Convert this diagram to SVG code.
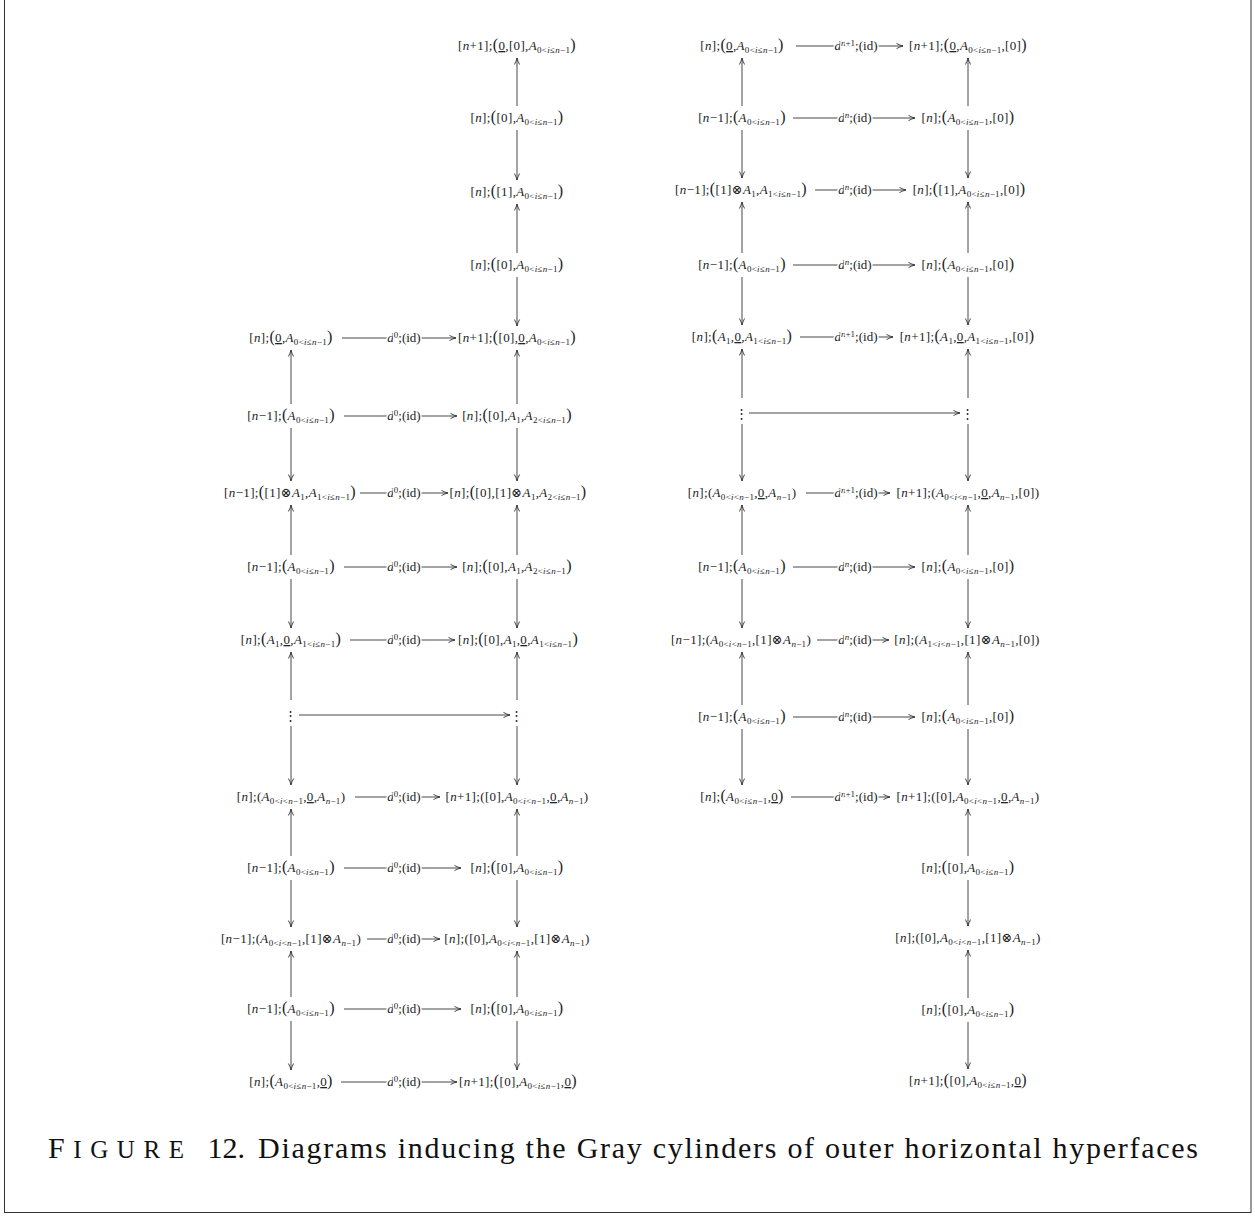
<svg xmlns="http://www.w3.org/2000/svg" width="1255" height="1217" viewBox="0 0 1255 1217">
<style>
.t{font-family:"Liberation Serif","DejaVu Serif",serif;font-size:13px;letter-spacing:0.35px;fill:#222;text-anchor:middle}
.i{font-style:italic}
.s{font-size:9px;letter-spacing:0.3px;baseline-shift:-2.8px}
.p{font-size:16px}
.u{text-decoration:underline}
.sup{font-size:9px;baseline-shift:4.5px}
.lbl{font-family:"Liberation Serif","DejaVu Serif",serif;font-size:13px;fill:#222;text-anchor:middle;stroke:#fff;stroke-width:3px;paint-order:stroke fill;stroke-linejoin:round}
.c line{stroke:#333;stroke-width:0.9;fill:none;marker-end:url(#ah)}
.cap{font-family:"Liberation Serif","DejaVu Serif",serif;font-size:30px;fill:#111}
.sc{font-size:25px}
</style>
<defs>
<marker id="ah" viewBox="-8 -4 10 8" refX="0" refY="0" markerWidth="10" markerHeight="8" markerUnits="userSpaceOnUse" orient="auto">
<path d="M-6.5,-2.6 Q-3,-0.6 0,0 Q-3,0.6 -6.5,2.6" fill="none" stroke="#333" stroke-width="0.9"/>
</marker>
</defs>
<rect x="4.5" y="-5" width="1246.5" height="1217.5" fill="none" stroke="#333" stroke-width="1"/>

<g class="c" id="connectors">
<line x1="517" y1="106" x2="517" y2="58"/>
<line x1="517" y1="130" x2="517" y2="180"/>
<line x1="517" y1="253" x2="517" y2="204"/>
<line x1="517" y1="277" x2="517" y2="326"/>
<line x1="517" y1="404" x2="517" y2="350"/>
<line x1="517" y1="428" x2="517" y2="481"/>
<line x1="517" y1="555" x2="517" y2="505"/>
<line x1="517" y1="579" x2="517" y2="628"/>
<line x1="517" y1="700" x2="517" y2="652"/>
<line x1="517" y1="726" x2="517" y2="785"/>
<line x1="517" y1="856" x2="517" y2="809"/>
<line x1="517" y1="880" x2="517" y2="927"/>
<line x1="517" y1="997" x2="517" y2="951"/>
<line x1="517" y1="1021" x2="517" y2="1070"/>
<line x1="291" y1="404" x2="291" y2="350"/>
<line x1="291" y1="428" x2="291" y2="481"/>
<line x1="291" y1="555" x2="291" y2="505"/>
<line x1="291" y1="579" x2="291" y2="628"/>
<line x1="291" y1="700" x2="291" y2="652"/>
<line x1="291" y1="726" x2="291" y2="785"/>
<line x1="291" y1="856" x2="291" y2="809"/>
<line x1="291" y1="880" x2="291" y2="927"/>
<line x1="291" y1="997" x2="291" y2="951"/>
<line x1="291" y1="1021" x2="291" y2="1070"/>
<line x1="342" y1="338" x2="456" y2="338"/>
<line x1="344" y1="416" x2="457" y2="416"/>
<line x1="360" y1="493" x2="448" y2="493"/>
<line x1="344" y1="567" x2="457" y2="567"/>
<line x1="350" y1="640" x2="455" y2="640"/>
<line x1="299" y1="715" x2="510" y2="715"/>
<line x1="355" y1="797" x2="440" y2="797"/>
<line x1="344" y1="868" x2="461" y2="868"/>
<line x1="367" y1="939" x2="440" y2="939"/>
<line x1="344" y1="1009" x2="461" y2="1009"/>
<line x1="341" y1="1082" x2="457" y2="1082"/>
<line x1="742" y1="106" x2="742" y2="58"/>
<line x1="742" y1="130" x2="742" y2="178"/>
<line x1="742" y1="253" x2="742" y2="202"/>
<line x1="742" y1="277" x2="742" y2="325"/>
<line x1="742" y1="398" x2="742" y2="349"/>
<line x1="742" y1="424" x2="742" y2="481"/>
<line x1="742" y1="555" x2="742" y2="505"/>
<line x1="742" y1="579" x2="742" y2="628"/>
<line x1="742" y1="705" x2="742" y2="652"/>
<line x1="742" y1="729" x2="742" y2="785"/>
<line x1="968" y1="106" x2="968" y2="58"/>
<line x1="968" y1="130" x2="968" y2="178"/>
<line x1="968" y1="253" x2="968" y2="202"/>
<line x1="968" y1="277" x2="968" y2="325"/>
<line x1="968" y1="398" x2="968" y2="349"/>
<line x1="968" y1="424" x2="968" y2="481"/>
<line x1="968" y1="555" x2="968" y2="505"/>
<line x1="968" y1="579" x2="968" y2="628"/>
<line x1="968" y1="705" x2="968" y2="652"/>
<line x1="968" y1="729" x2="968" y2="785"/>
<line x1="968" y1="856" x2="968" y2="809"/>
<line x1="968" y1="880" x2="968" y2="926"/>
<line x1="968" y1="998" x2="968" y2="950"/>
<line x1="968" y1="1022" x2="968" y2="1069"/>
<line x1="796" y1="46" x2="903" y2="46"/>
<line x1="793" y1="118" x2="915" y2="118"/>
<line x1="815" y1="190" x2="906" y2="190"/>
<line x1="793" y1="265" x2="915" y2="265"/>
<line x1="800" y1="337" x2="893" y2="337"/>
<line x1="749" y1="413" x2="960" y2="413"/>
<line x1="806" y1="493" x2="890" y2="493"/>
<line x1="817" y1="640" x2="889" y2="640"/>
<line x1="793" y1="567" x2="915" y2="567"/>
<line x1="793" y1="717" x2="915" y2="717"/>
<line x1="791" y1="797" x2="890" y2="797"/>
<text class="lbl" x="404" y="342"><tspan class="i">d</tspan><tspan class="sup">0</tspan>;(id)</text>
<text class="lbl" x="404" y="420"><tspan class="i">d</tspan><tspan class="sup">0</tspan>;(id)</text>
<text class="lbl" x="404" y="497"><tspan class="i">d</tspan><tspan class="sup">0</tspan>;(id)</text>
<text class="lbl" x="404" y="571"><tspan class="i">d</tspan><tspan class="sup">0</tspan>;(id)</text>
<text class="lbl" x="404" y="644"><tspan class="i">d</tspan><tspan class="sup">0</tspan>;(id)</text>
<text class="lbl" x="404" y="801"><tspan class="i">d</tspan><tspan class="sup">0</tspan>;(id)</text>
<text class="lbl" x="404" y="872"><tspan class="i">d</tspan><tspan class="sup">0</tspan>;(id)</text>
<text class="lbl" x="404" y="943"><tspan class="i">d</tspan><tspan class="sup">0</tspan>;(id)</text>
<text class="lbl" x="404" y="1013"><tspan class="i">d</tspan><tspan class="sup">0</tspan>;(id)</text>
<text class="lbl" x="404" y="1086"><tspan class="i">d</tspan><tspan class="sup">0</tspan>;(id)</text>
<text class="lbl" x="856" y="50"><tspan class="i">d</tspan><tspan class="sup"><tspan class="i">n</tspan>+1</tspan>;(id)</text>
<text class="lbl" x="855" y="122"><tspan class="i">d</tspan><tspan class="sup"><tspan class="i">n</tspan></tspan>;(id)</text>
<text class="lbl" x="855" y="194"><tspan class="i">d</tspan><tspan class="sup"><tspan class="i">n</tspan></tspan>;(id)</text>
<text class="lbl" x="855" y="269"><tspan class="i">d</tspan><tspan class="sup"><tspan class="i">n</tspan></tspan>;(id)</text>
<text class="lbl" x="856" y="341"><tspan class="i">d</tspan><tspan class="sup"><tspan class="i">n</tspan>+1</tspan>;(id)</text>
<text class="lbl" x="856" y="497"><tspan class="i">d</tspan><tspan class="sup"><tspan class="i">n</tspan>+1</tspan>;(id)</text>
<text class="lbl" x="855" y="571"><tspan class="i">d</tspan><tspan class="sup"><tspan class="i">n</tspan></tspan>;(id)</text>
<text class="lbl" x="855" y="644"><tspan class="i">d</tspan><tspan class="sup"><tspan class="i">n</tspan></tspan>;(id)</text>
<text class="lbl" x="855" y="721"><tspan class="i">d</tspan><tspan class="sup"><tspan class="i">n</tspan></tspan>;(id)</text>
<text class="lbl" x="856" y="801"><tspan class="i">d</tspan><tspan class="sup"><tspan class="i">n</tspan>+1</tspan>;(id)</text>
</g>

<g id="L0"><text class="t" x="517" y="50">[<tspan class="i">n</tspan>+1];<tspan class="p">(</tspan><tspan class="u">0</tspan>,[0],<tspan class="i">A</tspan><tspan class="s">0&lt;<tspan class="i">i</tspan>≤<tspan class="i">n</tspan>−1</tspan><tspan class="p">)</tspan></text></g>
<g id="L1"><text class="t" x="517" y="122">[<tspan class="i">n</tspan>];<tspan class="p">(</tspan>[0],<tspan class="i">A</tspan><tspan class="s">0&lt;<tspan class="i">i</tspan>≤<tspan class="i">n</tspan>−1</tspan><tspan class="p">)</tspan></text></g>
<g id="L2"><text class="t" x="517" y="196">[<tspan class="i">n</tspan>];<tspan class="p">(</tspan>[1],<tspan class="i">A</tspan><tspan class="s">0&lt;<tspan class="i">i</tspan>≤<tspan class="i">n</tspan>−1</tspan><tspan class="p">)</tspan></text></g>
<g id="L3"><text class="t" x="517" y="269">[<tspan class="i">n</tspan>];<tspan class="p">(</tspan>[0],<tspan class="i">A</tspan><tspan class="s">0&lt;<tspan class="i">i</tspan>≤<tspan class="i">n</tspan>−1</tspan><tspan class="p">)</tspan></text></g>
<g id="L4a"><text class="t" x="291" y="342">[<tspan class="i">n</tspan>];<tspan class="p">(</tspan><tspan class="u">0</tspan>,<tspan class="i">A</tspan><tspan class="s">0&lt;<tspan class="i">i</tspan>≤<tspan class="i">n</tspan>−1</tspan><tspan class="p">)</tspan></text></g>
<g id="L4b"><text class="t" x="517" y="342">[<tspan class="i">n</tspan>+1];<tspan class="p">(</tspan>[0],<tspan class="u">0</tspan>,<tspan class="i">A</tspan><tspan class="s">0&lt;<tspan class="i">i</tspan>≤<tspan class="i">n</tspan>−1</tspan><tspan class="p">)</tspan></text></g>
<g id="L5a"><text class="t" x="291" y="420">[<tspan class="i">n</tspan>−1];<tspan class="p">(</tspan><tspan class="i">A</tspan><tspan class="s">0&lt;<tspan class="i">i</tspan>≤<tspan class="i">n</tspan>−1</tspan><tspan class="p">)</tspan></text></g>
<g id="L5b"><text class="t" x="517" y="420">[<tspan class="i">n</tspan>];<tspan class="p">(</tspan>[0],<tspan class="i">A</tspan><tspan class="s">1</tspan>,<tspan class="i">A</tspan><tspan class="s">2&lt;<tspan class="i">i</tspan>≤<tspan class="i">n</tspan>−1</tspan><tspan class="p">)</tspan></text></g>
<g id="L6a"><text class="t" x="290" y="497">[<tspan class="i">n</tspan>−1];<tspan class="p">(</tspan>[1]⊗<tspan class="i">A</tspan><tspan class="s">1</tspan>,<tspan class="i">A</tspan><tspan class="s">1&lt;<tspan class="i">i</tspan>≤<tspan class="i">n</tspan>−1</tspan><tspan class="p">)</tspan></text></g>
<g id="L6b"><text class="t" x="518" y="497">[<tspan class="i">n</tspan>];<tspan class="p">(</tspan>[0],[1]⊗<tspan class="i">A</tspan><tspan class="s">1</tspan>,<tspan class="i">A</tspan><tspan class="s">2&lt;<tspan class="i">i</tspan>≤<tspan class="i">n</tspan>−1</tspan><tspan class="p">)</tspan></text></g>
<g id="L7a"><text class="t" x="291" y="571">[<tspan class="i">n</tspan>−1];<tspan class="p">(</tspan><tspan class="i">A</tspan><tspan class="s">0&lt;<tspan class="i">i</tspan>≤<tspan class="i">n</tspan>−1</tspan><tspan class="p">)</tspan></text></g>
<g id="L7b"><text class="t" x="517" y="571">[<tspan class="i">n</tspan>];<tspan class="p">(</tspan>[0],<tspan class="i">A</tspan><tspan class="s">1</tspan>,<tspan class="i">A</tspan><tspan class="s">2&lt;<tspan class="i">i</tspan>≤<tspan class="i">n</tspan>−1</tspan><tspan class="p">)</tspan></text></g>
<g id="L8a"><text class="t" x="291" y="644">[<tspan class="i">n</tspan>];<tspan class="p">(</tspan><tspan class="i">A</tspan><tspan class="s">1</tspan>,<tspan class="u">0</tspan>,<tspan class="i">A</tspan><tspan class="s">1&lt;<tspan class="i">i</tspan>≤<tspan class="i">n</tspan>−1</tspan><tspan class="p">)</tspan></text></g>
<g id="L8b"><text class="t" x="518" y="644">[<tspan class="i">n</tspan>];<tspan class="p">(</tspan>[0],<tspan class="i">A</tspan><tspan class="s">1</tspan>,<tspan class="u">0</tspan>,<tspan class="i">A</tspan><tspan class="s">1&lt;<tspan class="i">i</tspan>≤<tspan class="i">n</tspan>−1</tspan><tspan class="p">)</tspan></text></g>
<g id="L9a"><text class="t" x="291" y="720">⋮</text></g>
<g id="L9b"><text class="t" x="517" y="720">⋮</text></g>
<g id="L10a"><text class="t" x="291" y="801">[<tspan class="i">n</tspan>];(<tspan class="i">A</tspan><tspan class="s">0&lt;<tspan class="i">i</tspan>&lt;<tspan class="i">n</tspan>−1</tspan>,<tspan class="u">0</tspan>,<tspan class="i">A</tspan><tspan class="s"><tspan class="i">n</tspan>−1</tspan>)</text></g>
<g id="L10b"><text class="t" x="517" y="801">[<tspan class="i">n</tspan>+1];([0],<tspan class="i">A</tspan><tspan class="s">0&lt;<tspan class="i">i</tspan>&lt;<tspan class="i">n</tspan>−1</tspan>,<tspan class="u">0</tspan>,<tspan class="i">A</tspan><tspan class="s"><tspan class="i">n</tspan>−1</tspan>)</text></g>
<g id="L11a"><text class="t" x="291" y="872">[<tspan class="i">n</tspan>−1];<tspan class="p">(</tspan><tspan class="i">A</tspan><tspan class="s">0&lt;<tspan class="i">i</tspan>≤<tspan class="i">n</tspan>−1</tspan><tspan class="p">)</tspan></text></g>
<g id="L11b"><text class="t" x="517" y="872">[<tspan class="i">n</tspan>];<tspan class="p">(</tspan>[0],<tspan class="i">A</tspan><tspan class="s">0&lt;<tspan class="i">i</tspan>≤<tspan class="i">n</tspan>−1</tspan><tspan class="p">)</tspan></text></g>
<g id="L12a"><text class="t" x="291" y="943">[<tspan class="i">n</tspan>−1];(<tspan class="i">A</tspan><tspan class="s">0&lt;<tspan class="i">i</tspan>&lt;<tspan class="i">n</tspan>−1</tspan>,[1]⊗<tspan class="i">A</tspan><tspan class="s"><tspan class="i">n</tspan>−1</tspan>)</text></g>
<g id="L12b"><text class="t" x="517" y="943">[<tspan class="i">n</tspan>];([0],<tspan class="i">A</tspan><tspan class="s">0&lt;<tspan class="i">i</tspan>&lt;<tspan class="i">n</tspan>−1</tspan>,[1]⊗<tspan class="i">A</tspan><tspan class="s"><tspan class="i">n</tspan>−1</tspan>)</text></g>
<g id="L13a"><text class="t" x="291" y="1013">[<tspan class="i">n</tspan>−1];<tspan class="p">(</tspan><tspan class="i">A</tspan><tspan class="s">0&lt;<tspan class="i">i</tspan>≤<tspan class="i">n</tspan>−1</tspan><tspan class="p">)</tspan></text></g>
<g id="L13b"><text class="t" x="517" y="1013">[<tspan class="i">n</tspan>];<tspan class="p">(</tspan>[0],<tspan class="i">A</tspan><tspan class="s">0&lt;<tspan class="i">i</tspan>≤<tspan class="i">n</tspan>−1</tspan><tspan class="p">)</tspan></text></g>
<g id="L14a"><text class="t" x="291" y="1086">[<tspan class="i">n</tspan>];<tspan class="p">(</tspan><tspan class="i">A</tspan><tspan class="s">0&lt;<tspan class="i">i</tspan>≤<tspan class="i">n</tspan>−1</tspan>,<tspan class="u">0</tspan><tspan class="p">)</tspan></text></g>
<g id="L14b"><text class="t" x="518" y="1086">[<tspan class="i">n</tspan>+1];<tspan class="p">(</tspan>[0],<tspan class="i">A</tspan><tspan class="s">0&lt;<tspan class="i">i</tspan>≤<tspan class="i">n</tspan>−1</tspan>,<tspan class="u">0</tspan><tspan class="p">)</tspan></text></g>

<g id="R0a"><text class="t" x="742" y="50">[<tspan class="i">n</tspan>];<tspan class="p">(</tspan><tspan class="u">0</tspan>,<tspan class="i">A</tspan><tspan class="s">0&lt;<tspan class="i">i</tspan>≤<tspan class="i">n</tspan>−1</tspan><tspan class="p">)</tspan></text></g>
<g id="R0b"><text class="t" x="968" y="50">[<tspan class="i">n</tspan>+1];<tspan class="p">(</tspan><tspan class="u">0</tspan>,<tspan class="i">A</tspan><tspan class="s">0&lt;<tspan class="i">i</tspan>≤<tspan class="i">n</tspan>−1</tspan>,[0]<tspan class="p">)</tspan></text></g>
<g id="R1a"><text class="t" x="742" y="122">[<tspan class="i">n</tspan>−1];<tspan class="p">(</tspan><tspan class="i">A</tspan><tspan class="s">0&lt;<tspan class="i">i</tspan>≤<tspan class="i">n</tspan>−1</tspan><tspan class="p">)</tspan></text></g>
<g id="R1b"><text class="t" x="968" y="122">[<tspan class="i">n</tspan>];<tspan class="p">(</tspan><tspan class="i">A</tspan><tspan class="s">0&lt;<tspan class="i">i</tspan>≤<tspan class="i">n</tspan>−1</tspan>,[0]<tspan class="p">)</tspan></text></g>
<g id="R2a"><text class="t" x="741" y="194">[<tspan class="i">n</tspan>−1];<tspan class="p">(</tspan>[1]⊗<tspan class="i">A</tspan><tspan class="s">1</tspan>,<tspan class="i">A</tspan><tspan class="s">1&lt;<tspan class="i">i</tspan>≤<tspan class="i">n</tspan>−1</tspan><tspan class="p">)</tspan></text></g>
<g id="R2b"><text class="t" x="969" y="194">[<tspan class="i">n</tspan>];<tspan class="p">(</tspan>[1],<tspan class="i">A</tspan><tspan class="s">0&lt;<tspan class="i">i</tspan>≤<tspan class="i">n</tspan>−1</tspan>,[0]<tspan class="p">)</tspan></text></g>
<g id="R3a"><text class="t" x="742" y="269">[<tspan class="i">n</tspan>−1];<tspan class="p">(</tspan><tspan class="i">A</tspan><tspan class="s">0&lt;<tspan class="i">i</tspan>≤<tspan class="i">n</tspan>−1</tspan><tspan class="p">)</tspan></text></g>
<g id="R3b"><text class="t" x="968" y="269">[<tspan class="i">n</tspan>];<tspan class="p">(</tspan><tspan class="i">A</tspan><tspan class="s">0&lt;<tspan class="i">i</tspan>≤<tspan class="i">n</tspan>−1</tspan>,[0]<tspan class="p">)</tspan></text></g>
<g id="R4a"><text class="t" x="742" y="341">[<tspan class="i">n</tspan>];<tspan class="p">(</tspan><tspan class="i">A</tspan><tspan class="s">1</tspan>,<tspan class="u">0</tspan>,<tspan class="i">A</tspan><tspan class="s">1&lt;<tspan class="i">i</tspan>≤<tspan class="i">n</tspan>−1</tspan><tspan class="p">)</tspan></text></g>
<g id="R4b"><text class="t" x="967" y="341">[<tspan class="i">n</tspan>+1];<tspan class="p">(</tspan><tspan class="i">A</tspan><tspan class="s">1</tspan>,<tspan class="u">0</tspan>,<tspan class="i">A</tspan><tspan class="s">1&lt;<tspan class="i">i</tspan>≤<tspan class="i">n</tspan>−1</tspan>,[0]<tspan class="p">)</tspan></text></g>
<g id="R5a"><text class="t" x="742" y="418">⋮</text></g>
<g id="R5b"><text class="t" x="968" y="418">⋮</text></g>
<g id="R6a"><text class="t" x="742" y="497">[<tspan class="i">n</tspan>];(<tspan class="i">A</tspan><tspan class="s">0&lt;<tspan class="i">i</tspan>&lt;<tspan class="i">n</tspan>−1</tspan>,<tspan class="u">0</tspan>,<tspan class="i">A</tspan><tspan class="s"><tspan class="i">n</tspan>−1</tspan>)</text></g>
<g id="R6b"><text class="t" x="968" y="497">[<tspan class="i">n</tspan>+1];(<tspan class="i">A</tspan><tspan class="s">0&lt;<tspan class="i">i</tspan>&lt;<tspan class="i">n</tspan>−1</tspan>,<tspan class="u">0</tspan>,<tspan class="i">A</tspan><tspan class="s"><tspan class="i">n</tspan>−1</tspan>,[0])</text></g>
<g id="R7a"><text class="t" x="742" y="571">[<tspan class="i">n</tspan>−1];<tspan class="p">(</tspan><tspan class="i">A</tspan><tspan class="s">0&lt;<tspan class="i">i</tspan>≤<tspan class="i">n</tspan>−1</tspan><tspan class="p">)</tspan></text></g>
<g id="R7b"><text class="t" x="968" y="571">[<tspan class="i">n</tspan>];<tspan class="p">(</tspan><tspan class="i">A</tspan><tspan class="s">0&lt;<tspan class="i">i</tspan>≤<tspan class="i">n</tspan>−1</tspan>,[0]<tspan class="p">)</tspan></text></g>
<g id="R8a"><text class="t" x="741" y="644">[<tspan class="i">n</tspan>−1];(<tspan class="i">A</tspan><tspan class="s">0&lt;<tspan class="i">i</tspan>&lt;<tspan class="i">n</tspan>−1</tspan>,[1]⊗<tspan class="i">A</tspan><tspan class="s"><tspan class="i">n</tspan>−1</tspan>)</text></g>
<g id="R8b"><text class="t" x="967" y="644">[<tspan class="i">n</tspan>];(<tspan class="i">A</tspan><tspan class="s">1&lt;<tspan class="i">i</tspan>&lt;<tspan class="i">n</tspan>−1</tspan>,[1]⊗<tspan class="i">A</tspan><tspan class="s"><tspan class="i">n</tspan>−1</tspan>,[0])</text></g>
<g id="R9a"><text class="t" x="742" y="721">[<tspan class="i">n</tspan>−1];<tspan class="p">(</tspan><tspan class="i">A</tspan><tspan class="s">0&lt;<tspan class="i">i</tspan>≤<tspan class="i">n</tspan>−1</tspan><tspan class="p">)</tspan></text></g>
<g id="R9b"><text class="t" x="968" y="721">[<tspan class="i">n</tspan>];<tspan class="p">(</tspan><tspan class="i">A</tspan><tspan class="s">0&lt;<tspan class="i">i</tspan>≤<tspan class="i">n</tspan>−1</tspan>,[0]<tspan class="p">)</tspan></text></g>
<g id="R10a"><text class="t" x="742" y="801">[<tspan class="i">n</tspan>];<tspan class="p">(</tspan><tspan class="i">A</tspan><tspan class="s">0&lt;<tspan class="i">i</tspan>≤<tspan class="i">n</tspan>−1</tspan>,<tspan class="u">0</tspan><tspan class="p">)</tspan></text></g>
<g id="R10b"><text class="t" x="968" y="801">[<tspan class="i">n</tspan>+1];([0],<tspan class="i">A</tspan><tspan class="s">0&lt;<tspan class="i">i</tspan>&lt;<tspan class="i">n</tspan>−1</tspan>,<tspan class="u">0</tspan>,<tspan class="i">A</tspan><tspan class="s"><tspan class="i">n</tspan>−1</tspan>)</text></g>
<g id="R11"><text class="t" x="968" y="872">[<tspan class="i">n</tspan>];<tspan class="p">(</tspan>[0],<tspan class="i">A</tspan><tspan class="s">0&lt;<tspan class="i">i</tspan>≤<tspan class="i">n</tspan>−1</tspan><tspan class="p">)</tspan></text></g>
<g id="R12"><text class="t" x="968" y="942">[<tspan class="i">n</tspan>];([0],<tspan class="i">A</tspan><tspan class="s">0&lt;<tspan class="i">i</tspan>&lt;<tspan class="i">n</tspan>−1</tspan>,[1]⊗<tspan class="i">A</tspan><tspan class="s"><tspan class="i">n</tspan>−1</tspan>)</text></g>
<g id="R13"><text class="t" x="968" y="1014">[<tspan class="i">n</tspan>];<tspan class="p">(</tspan>[0],<tspan class="i">A</tspan><tspan class="s">0&lt;<tspan class="i">i</tspan>≤<tspan class="i">n</tspan>−1</tspan><tspan class="p">)</tspan></text></g>
<g id="R14"><text class="t" x="968" y="1085">[<tspan class="i">n</tspan>+1];<tspan class="p">(</tspan>[0],<tspan class="i">A</tspan><tspan class="s">0&lt;<tspan class="i">i</tspan>≤<tspan class="i">n</tspan>−1</tspan>,<tspan class="u">0</tspan><tspan class="p">)</tspan></text></g>

<g id="caption">
<text class="cap" x="48" y="1158" textLength="136" lengthAdjust="spacing">F<tspan class="sc">IGURE</tspan></text>
<text class="cap" x="245" y="1158" text-anchor="end">12.</text>
<text class="cap" x="258" y="1158" textLength="940" lengthAdjust="spacing">Diagrams inducing the Gray cylinders of outer horizontal hyperfaces</text>
</g>
</svg>
